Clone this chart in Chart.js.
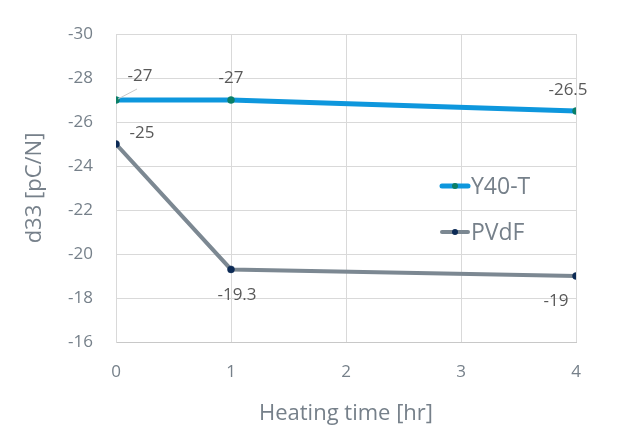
<!DOCTYPE html>
<html>
<head>
<meta charset="utf-8">
<script src="https://cdn.jsdelivr.net/npm/chart.js@4/dist/chart.umd.min.js"></script>
<style>
  html, body { margin: 0; padding: 0; background: #fff; }
  #wrap { width: 620px; height: 447px; }
</style>
</head>
<body>
<div id="wrap"><canvas id="chart" width="620" height="447"></canvas></div>
<script>
// Datos
const heatingTime = [0, 1, 4];
const y40t = [-27, -27, -26.5];
const pvdf = [-25, -19.3, -19];
const seriesNames = ['Y40-T', 'PVdF'];
const yTicksRange = { min: -30, max: -16, step: 2 };
const xTicksRange = { min: 0, max: 4, step: 1 };

// Desplazamientos de las etiquetas de datos (px)
const labelOffsets = [
    [[24, -24], [0, -22], [-8, -21]],
    [[26, -11], [6, 26], [-20, 25]]
];

const FONT = "'Open Sans', 'Noto Sans', sans-serif";
const TEXT_GRAY = '#76808a';

const dataLabelsPlugin = {
    id: 'dataLabels',
    afterDatasetsDraw(chart) {
        const ctx = chart.ctx;
        ctx.save();
        ctx.font = '17px ' + FONT;
        ctx.fillStyle = '#595959';
        ctx.textAlign = 'center';
        ctx.textBaseline = 'middle';
        chart.data.datasets.forEach((ds, di) => {
            const meta = chart.getDatasetMeta(di);
            meta.data.forEach((pt, i) => {
                const off = labelOffsets[di][i];
                const tx = pt.x + off[0];
                const ty = pt.y + off[1];
                // línea guía del primer punto
                if (di === 0 && i === 0) {
                    ctx.strokeStyle = '#c8c8c8';
                    ctx.lineWidth = 1;
                    ctx.beginPath();
                    ctx.moveTo(pt.x + 2, pt.y - 1);
                    ctx.lineTo(pt.x + 21, pt.y - 11);
                    ctx.stroke();
                }
                ctx.fillText(String(ds.data[i].y), tx, ty);
            });
        });
        ctx.restore();
    }
};

const innerLegendPlugin = {
    id: 'innerLegend',
    afterDraw(chart) {
        const ctx = chart.ctx;
        ctx.save();
        ctx.font = '23px ' + FONT;
        ctx.textBaseline = 'middle';
        ctx.textAlign = 'left';
        const x0 = 440, rows = [186, 232];
        chart.data.datasets.forEach((ds, di) => {
            const y = rows[di];
            ctx.strokeStyle = ds.borderColor;
            ctx.lineWidth = ds.borderWidth;
            ctx.lineCap = 'round';
            ctx.beginPath();
            ctx.moveTo(x0 + 2, y);
            ctx.lineTo(x0 + 28, y);
            ctx.stroke();
            ctx.fillStyle = ds.pointBackgroundColor;
            ctx.beginPath();
            ctx.arc(x0 + 15, y, 3, 0, Math.PI * 2);
            ctx.fill();
            ctx.fillStyle = TEXT_GRAY;
            ctx.fillText(ds.label, x0 + 31, y + 1);
        });
        ctx.restore();
    }
};

const toPoints = (xs, ys) => xs.map((x, i) => ({ x: x, y: ys[i] }));

new Chart(document.getElementById('chart').getContext('2d'), {
    type: 'line',
    data: {
        datasets: [
            {
                label: seriesNames[0],
                data: toPoints(heatingTime, y40t),
                borderColor: '#0e97dd',
                backgroundColor: '#0e97dd',
                pointBackgroundColor: '#0b7f66',
                pointBorderColor: '#0b7f66',
                pointBorderWidth: 0.5,
                borderWidth: 5,
                pointRadius: 3.5,
                tension: 0
            },
            {
                label: seriesNames[1],
                data: toPoints(heatingTime, pvdf),
                borderColor: '#7c8892',
                backgroundColor: '#7c8892',
                pointBackgroundColor: '#0c2a55',
                pointBorderColor: '#0c2a55',
                pointBorderWidth: 0.5,
                borderWidth: 4,
                pointRadius: 3.5,
                tension: 0
            }
        ]
    },
    options: {
        responsive: false,
        animation: false,
        layout: { padding: { top: 34, right: 44, bottom: 0, left: 0 } },
        plugins: {
            legend: { display: false },
            tooltip: { enabled: false }
        },
        scales: {
            x: {
                type: 'linear',
                min: xTicksRange.min,
                max: xTicksRange.max,
                ticks: {
                    stepSize: xTicksRange.step,
                    color: TEXT_GRAY,
                    font: { family: FONT, size: 17 },
                    padding: 20
                },
                grid: { color: '#d9d9d9', drawTicks: false, lineWidth: 1 },
                border: { color: '#c8c8c8' },
                title: {
                    display: true,
                    text: 'Heating time [hr]',
                    color: TEXT_GRAY,
                    font: { family: FONT, size: 22 },
                    padding: { top: 4, bottom: 20 }
                },
                afterFit(scale) { scale.height = 105; }
            },
            y: {
                min: yTicksRange.min,
                max: yTicksRange.max,
                reverse: true,
                ticks: {
                    stepSize: yTicksRange.step,
                    color: TEXT_GRAY,
                    font: { family: FONT, size: 17 },
                    padding: 23
                },
                grid: { color: '#d9d9d9', drawTicks: false },
                border: { color: '#d9d9d9' },
                title: {
                    display: true,
                    text: 'd33 [pC/N]',
                    color: TEXT_GRAY,
                    font: { family: FONT, size: 22 },
                    padding: { top: 22, bottom: 0 }
                },
                afterFit(scale) { scale.width = 116; }
            }
        }
    },
    plugins: [dataLabelsPlugin, innerLegendPlugin]
});
</script>
</body>
</html>
